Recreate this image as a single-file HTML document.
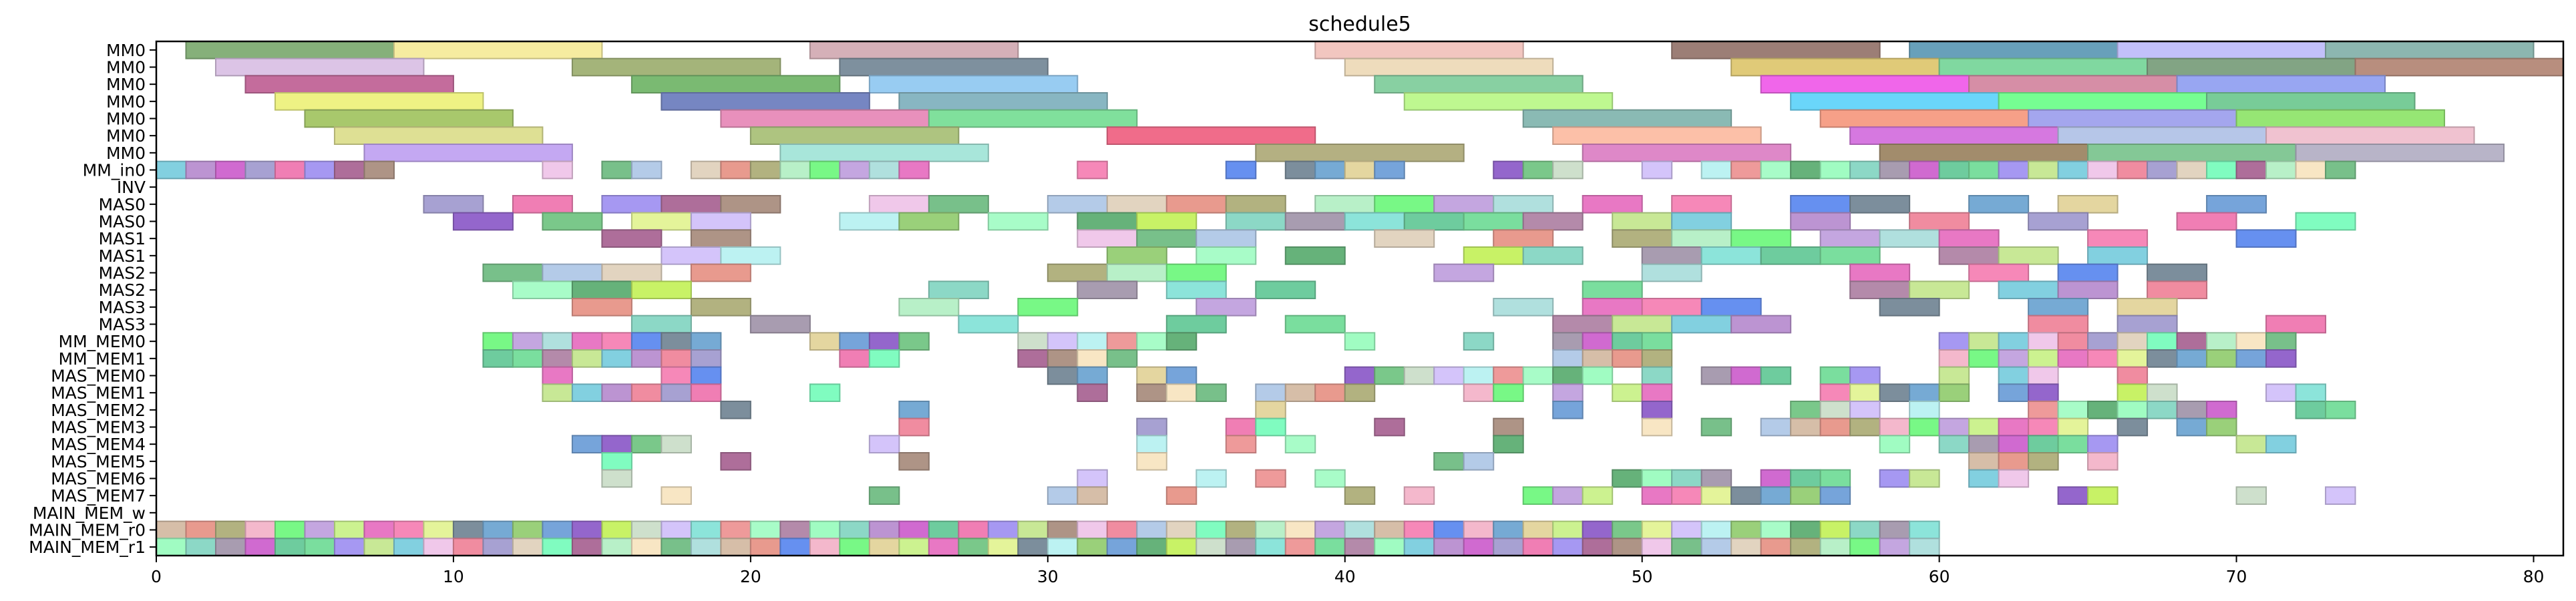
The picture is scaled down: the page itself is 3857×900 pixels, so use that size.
<!DOCTYPE html>
<html><head><meta charset="utf-8"><title>schedule5</title>
<style>html,body{margin:0;padding:0;background:#fff;}svg{display:block;font-family:"DejaVu Sans","Liberation Sans",sans-serif;}</style>
</head><body>
<svg id="chart" width="3857" height="900" xmlns="http://www.w3.org/2000/svg">
<text x="2036" y="46" font-size="30" text-anchor="middle">schedule5</text>
<g id="bars"></g>
<g id="yaxis"></g>
<g id="xaxis"></g>
<rect x="234" y="62" width="3604" height="770" fill="none" stroke="#000" stroke-width="2.5"/>
</svg>
<script>
const rowLabels = ["MM0","MM0","MM0","MM0","MM0","MM0","MM0","MM_in0","INV","MAS0","MAS0","MAS1","MAS1","MAS2","MAS2","MAS3","MAS3","MM_MEM0","MM_MEM1","MAS_MEM0","MAS_MEM1","MAS_MEM2","MAS_MEM3","MAS_MEM4","MAS_MEM5","MAS_MEM6","MAS_MEM7","MAIN_MEM_w","MAIN_MEM_r0","MAIN_MEM_r1"];
const rowDuration = [7,7,7,7,7,7,7,1,1,2,2,2,2,2,2,2,2,1,1,1,1,1,1,1,1,1,1,1,1,1];
function range(a,b){const r=[];for(let i=a;i<=b;i++)r.push(i);return r;}
const taskStarts = [
 [1,8,22,39,51,59,66,73],
 [2,14,23,40,53,60,67,74],
 [3,16,24,41,54,61,68],
 [4,17,25,42,55,62,69],
 [5,19,26,46,56,63,70],
 [6,20,32,47,57,64,71],
 [7,21,37,48,58,65,72],
 [0,1,2,3,4,5,6,7,13,15,16,18,19,20,21,22,23,24,25,31,36,38,39,40,41,45,46,47,50].concat(range(52,73)),
 [],
 [9,12,15,17,19,24,26,30,32,34,36,39,41,43,45,48,51,55,57,61,64,69],
 [10,13,16,18,23,25,28,31,33,36,38,40,42,44,46,49,51,55,59,63,68,72],
 [15,18,31,33,35,41,45,49,51,53,56,58,60,65,70],
 [17,19,32,35,38,44,46,50,52,54,56,60,62,65],
 [11,13,15,18,30,32,34,43,50,57,61,64,67],
 [12,14,16,26,31,34,37,48,57,59,62,64,67],
 [14,18,25,29,35,45,48,50,52,58,63,66],
 [16,20,27,34,38,47,49,51,53,63,66,71],
 range(11,18).concat([22,23,24,25],range(29,34),[40,44,47,48,49,50],range(60,71)),
 range(11,18).concat([23,24,29,30,31,32,47,48,49,50],range(60,71)),
 [13,17,18,30,31,33,34].concat(range(40,48),[50,52,53,54,56,57,60,62,63,66]),
 range(13,18).concat([22,31,33,34,35,37,38,39,40,44,45,47,49,50,56,57,58,59,60,62,63,66,67,71,72]),
 [19,25,37,47,50,55,56,57,59,63,64,65,66,67,68,69,72,73],
 [25,33,36,37,41,45,50,52].concat(range(54,64),[66,68,69]),
 [14,15,16,17,24,33,36,38,45,58,60,61,62,63,64,65,70,71],
 [15,19,25,33,43,44,61,62,63,65],
 [15,31,35,37,39,49,50,51,52,54,55,56,58,59,61,62],
 [17,24,30,31,34,40,42,46,47,48,50,51,52,53,54,55,56,64,65,70,73],
 [],
 range(0,59),
 range(0,59)
];
const longColors = [
 ["#86b07a","#f6eca0","#d5b0b8","#f2c6c0","#9c7e76","#68a0ba","#c2c0fa","#8cb6b0"],
 ["#dcc4e6","#a4b47a","#7e909e","#eedcbc","#e0ca78","#80d8a0","#82a484","#b88e7e"],
 ["#c46c9c","#7aba72","#98ccf2","#88d0a2","#f066ea","#d68ea6","#98a6f2"],
 ["#eef284","#7686c2","#88b6c2","#bef890","#6ad6fa","#76fe92","#78cc98"],
 ["#a8c86c","#e890bc","#80e09c","#8abab4","#f6a088","#a4a6ee","#96e674"],
 ["#dee094","#aec480","#f06c8a","#fcc0a8","#d678e0","#b6c6e8","#f0c2d0"],
 ["#c4a8f2","#a8e6da","#b4b082","#de88c8","#a28c6c","#84c896","#b8b4c8"]
];
const palette = ["#b4cbe8","#b0e0de","#ccf290","#76a4da","#a8fcc8","#7ade9e","#f07eb4","#e2d4c0","#d6bea8","#e878c4","#9466cc","#66b27a","#b48aaa","#a698f2","#80fcc0","#e89a8e","#f688b8","#7ac88a","#c8f266","#a0fcc2","#c8e896","#ae6e9a","#b2b280","#6690f0","#e4f49a","#cee0cc","#8cd8c6","#82d0e0","#ae9486","#b8f0c8","#f4b8cc","#7c8e9c","#d4c4fa","#a89cb0","#bc94d2","#f0c8ea","#f8e6c4","#78f886","#76aad4","#bcf2f2","#8ce4da","#d06ad0","#f08ca0","#78c08a","#c4a6e0","#e4d6a0","#9ad07a","#ee9a9a","#6ecc9e","#a7a1d2"];
function rowColor(r,i){
  if(r<7) return longColors[r][i];
  return palette[(r*11+i*7+Math.floor(i/3))%palette.length];
}
const X0=234, X1=3838, Y0=62, Y1=832, XMAX=81;
const xScale = v => X0 + v*(X1-X0)/XMAX;
const rowH = (Y1-Y0)/rowLabels.length;
const yScale = r => Y0 + r*rowH;
function darker(hex){
  const n=parseInt(hex.slice(1),16);
  const f=c=>Math.round(c*0.8).toString(16).padStart(2,'0');
  return '#'+f(n>>16&255)+f(n>>8&255)+f(n&255);
}
const NS="http://www.w3.org/2000/svg";
const bars=document.getElementById('bars');
taskStarts.forEach((starts,r)=>{
  starts.forEach((s,i)=>{
    const rect=document.createElementNS(NS,'rect');
    const c=rowColor(r,i);
    rect.setAttribute('x',xScale(s));
    rect.setAttribute('y',yScale(r));
    rect.setAttribute('width',xScale(s+rowDuration[r])-xScale(s));
    rect.setAttribute('height',rowH);
    rect.setAttribute('fill',c);
    rect.setAttribute('stroke',darker(c));
    rect.setAttribute('stroke-width','2');
    
    
    bars.appendChild(rect);
  });
});
const yaxis=document.getElementById('yaxis');
rowLabels.forEach((lab,r)=>{
  const cy=yScale(r)+rowH/2;
  const t=document.createElementNS(NS,'line');
  t.setAttribute('x1',X0-10);t.setAttribute('x2',X0);t.setAttribute('y1',cy);t.setAttribute('y2',cy);
  t.setAttribute('stroke','#000');t.setAttribute('stroke-width','2');
  
  
  yaxis.appendChild(t);
  const tx=document.createElementNS(NS,'text');
  tx.setAttribute('x',X0-16);tx.setAttribute('y',cy+9);
  tx.setAttribute('font-size','25');tx.setAttribute('text-anchor','end');
  tx.textContent=lab;
  
  
  yaxis.appendChild(tx);
});
const xTicks=[0,10,20,30,40,50,60,70,80];
const xaxis=document.getElementById('xaxis');
xTicks.forEach(v=>{
  const x=xScale(v);
  const t=document.createElementNS(NS,'line');
  t.setAttribute('x1',x);t.setAttribute('x2',x);t.setAttribute('y1',Y1);t.setAttribute('y2',Y1+10);
  t.setAttribute('stroke','#000');t.setAttribute('stroke-width','2');
  
  
  xaxis.appendChild(t);
  const tx=document.createElementNS(NS,'text');
  tx.setAttribute('x',x);tx.setAttribute('y',Y1+40);
  tx.setAttribute('font-size','25');tx.setAttribute('text-anchor','middle');
  tx.textContent=String(v);
  
  
  xaxis.appendChild(tx);
});
</script>
</body></html>
